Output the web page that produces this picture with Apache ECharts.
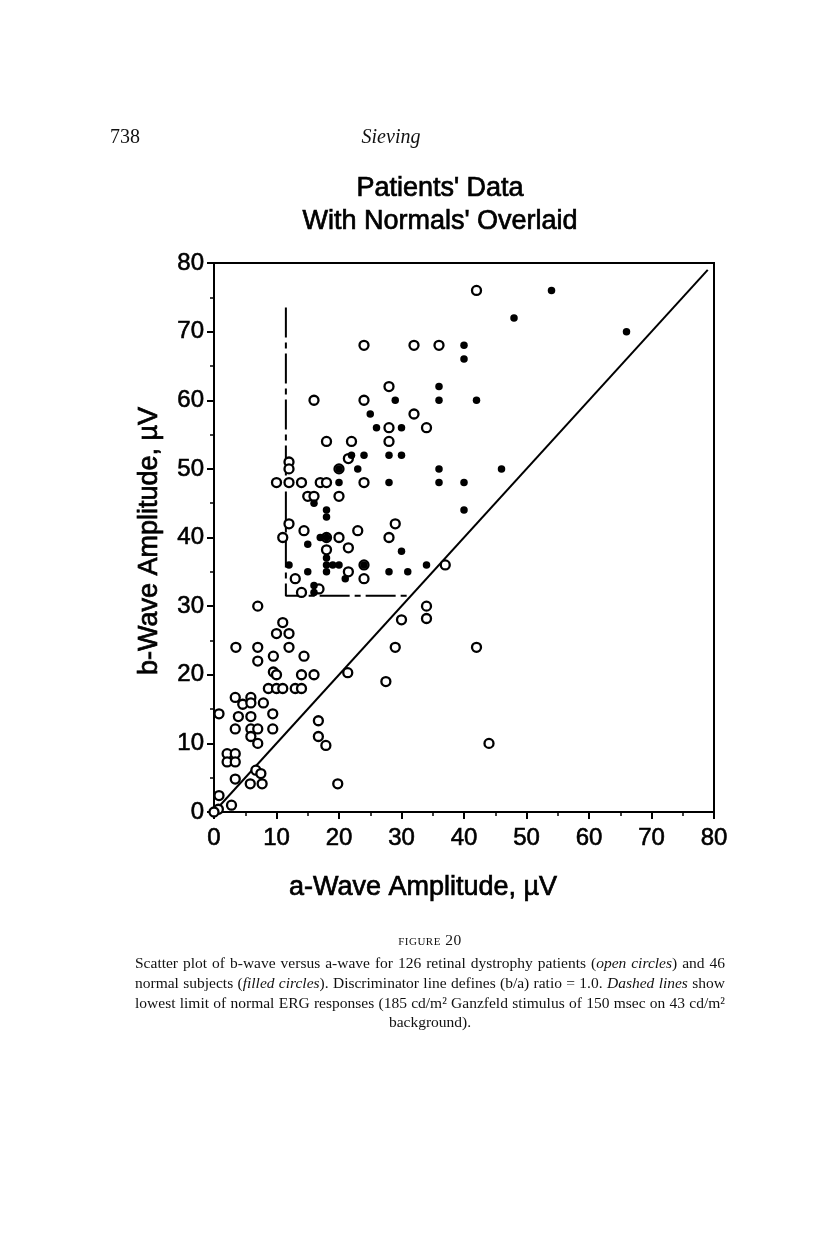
<!DOCTYPE html>
<html>
<head>
<meta charset="utf-8">
<script src="https://cdn.jsdelivr.net/npm/echarts@6/dist/echarts.min.js"></script>
<style>
html,body{margin:0;padding:0;background:#fff;}
#wrap{position:relative;width:816px;height:1246px;}
#chart{position:absolute;left:0;top:0;width:816px;height:1246px;}
.cap{position:absolute;left:135px;width:590px;font-family:'Liberation Serif','DejaVu Serif',serif;font-size:15.5px;color:#111;line-height:20px;white-space:nowrap;}
.just{text-align:justify;text-align-last:justify;white-space:normal;}
</style>
</head>
<body>
<div id="wrap">
<div id="chart"></div>
<div class="cap" style="top:930px;text-align:center;font-variant:small-caps;letter-spacing:0.5px;">figure 20</div>
<div class="cap just" style="top:953px;">Scatter plot of b-wave versus a-wave for 126 retinal dystrophy patients (<i>open circles</i>) and 46</div>
<div class="cap just" style="top:973px;">normal subjects (<i>filled circles</i>). Discriminator line defines (b/a) ratio = 1.0. <i>Dashed lines</i> show</div>
<div class="cap just" style="top:993px;">lowest limit of normal ERG responses (185 cd/m² Ganzfeld stimulus of 150 msec on 43 cd/m²</div>
<div class="cap" style="top:1012px;text-align:center;">background).</div>
</div>
<script>
// Patients (open circles): [a-wave, b-wave] in µV
const patients = [
  [42,76],[24,68],[32,68],[36,68],[28,62],[16,60],[24,60],[32,58],[28,56],[34,56],
  [18,54],[22,54],[28,54],[21.5,51.5],[12,51],[12,50],[20,50],[10,48],[12,48],[14,48],
  [17,48],[18,48],[24,48],[15,46],[16,46],[20,46],[12,42],[14.4,41],[23,41],[29,42],
  [11,40],[18,40],[20,40],[28,40],[21.5,38.5],[18,38.2],[37,36],[24,36],[21.5,35],[13,34],
  [24,34],[16.8,32.5],[14,32],
  [7,30],[34,30],[34,28.2],[30,28],[11,27.6],[10,26],[12,26],[3.5,24],[7,24],[12,24],
  [29,24],[42,24],[7,22],[9.5,22.7],[14.4,22.7],[9.5,20.4],[10,20],[14,20],[16,20],
  [21.4,20.3],[27.5,19],[8.7,18],[10,18],[11,18],[13,18],[14,18],[3.4,16.7],[5.9,16.7],
  [4.6,15.7],[5.9,15.9],[7.9,15.9],[0.8,14.3],[3.9,13.9],[5.9,13.9],[9.4,14.3],[3.4,12.1],
  [5.9,12.1],[7,12.1],[9.4,12.1],[5.9,11],[7,10],[16.7,13.3],[16.7,11],[17.9,9.7],
  [2.1,8.5],[3.4,8.5],[2.1,7.3],[3.4,7.3],[3.4,4.8],[6.7,6.1],[7.5,5.6],[5.8,4.1],
  [7.7,4.1],[19.8,4.1],[44,10],[0.8,2.4],[2.8,1],[0.7,0.4],[0,0]
];
// Normals (filled circles)
const normals = [
  [36,62],[29,60],[36,60],[25,58],[26,56],[30,56],[54,76],[48,72],[66,70],[40,68],
  [40,66],[42,60],[22,52],[24,52],[28,52],[30,52],[20,50],[23,50],[36,50],[46,50],
  [20,48],[28,48],[36,48],[40,48],[16,45],[18,44],[18,43],[40,44],[17,40],[18,40],
  [15,39],[30,38],[18,37],[12,36],[18,36],[19,36],[20,36],[24,36],[34,36],[15,35],
  [18,35],[28,35],[31,35],[21,34],[16,33],[16,32]
];
// Discriminator line b/a = 1.0
const discriminator = [[0,0],[79,79]];
// Lowest limit of normal (dashed)
const normalLimit = [[11.5,73.5],[11.5,31.5],[31,31.5]];
const tickValues = [0,10,20,30,40,50,60,70,80];

const chart = echarts.init(document.getElementById('chart'), null, {renderer:'canvas'});
const sans = "'Liberation Sans', Arial, Helvetica, sans-serif";
const axisCommon = {
  type:'value', min:0, max:80, interval:10,
  axisLine:{show:true, lineStyle:{color:'#000', width:2}},
  axisTick:{show:true, length:7, lineStyle:{color:'#000', width:2}},
  minorTick:{show:true, splitNumber:2, length:4, lineStyle:{color:'#000', width:1.5}},
  splitLine:{show:false},
  axisLabel:{color:'#000', fontSize:24, fontFamily:sans, textBorderColor:'#000', textBorderWidth:0.6,
    formatter:v => tickValues.indexOf(v) >= 0 ? String(v) : ''}
};
const bold = {fill:'#000', stroke:'#000', lineWidth:0.7, textAlign:'center', textVerticalAlign:'middle'};
chart.setOption({
  animation:false,
  backgroundColor:'#fff',
  grid:{left:214, right:102, top:263, bottom:434, show:true, borderColor:'#000', borderWidth:2, backgroundColor:'transparent'},
  xAxis:Object.assign({}, axisCommon, {axisLabel:Object.assign({}, axisCommon.axisLabel, {margin:14})}),
  yAxis:Object.assign({}, axisCommon, {axisLabel:Object.assign({}, axisCommon.axisLabel, {margin:10})}),
  graphic:[
    {type:'text', left:110, top:128, style:{text:'738', font:"20px 'Liberation Serif', serif", fill:'#111'}},
    {type:'text', x:391, y:138, style:{text:'Sieving', font:"italic 20px 'Liberation Serif', serif", fill:'#111', textAlign:'center', textVerticalAlign:'middle'}},
    {type:'text', x:440, y:189, style:Object.assign({text:"Patients' Data", font:"27px "+sans}, bold)},
    {type:'text', x:440, y:222, style:Object.assign({text:"With Normals' Overlaid", font:"27px "+sans}, bold)},
    {type:'text', x:423, y:888, style:Object.assign({text:'a-Wave Amplitude, µV', font:"27px "+sans}, bold)},
    {type:'text', x:150, y:541, rotation:Math.PI/2, style:Object.assign({text:'b-Wave Amplitude, µV', font:"27px "+sans}, bold)}
  ],
  series:[
    {type:'line', data:discriminator, showSymbol:false, symbol:'none', lineStyle:{color:'#000', width:2}, z:1, silent:true},
    {type:'line', data:normalLimit, showSymbol:false, symbol:'none', lineStyle:{color:'#000', width:2, type:[30,5,6,5]}, z:1, silent:true},
    {type:'scatter', data:patients, symbol:'circle', symbolSize:9, itemStyle:{color:'#fff', borderColor:'#000', borderWidth:2.3, opacity:1}, z:3},
    {type:'scatter', data:normals, symbol:'circle', symbolSize:7.5, itemStyle:{color:'#000', opacity:1}, z:4}
  ]
});
</script>
</body>
</html>
